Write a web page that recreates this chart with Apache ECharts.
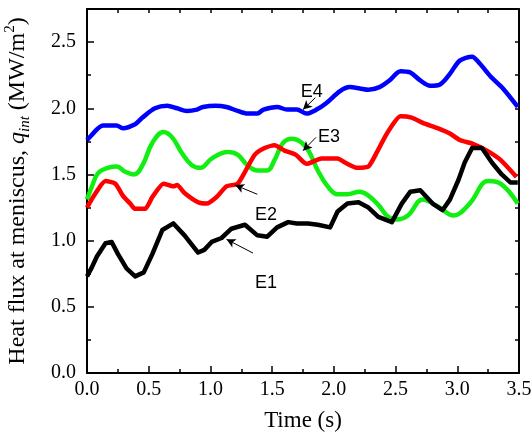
<!DOCTYPE html>
<html>
<head>
<meta charset="utf-8">
<script src="https://cdn.jsdelivr.net/npm/echarts@6/dist/echarts.min.js"></script>
<style>html,body{margin:0;padding:0;background:#fff}#c{width:531px;height:433px}</style>
</head>
<body>
<div id="c"></div>
<script>
// ---- data ----
const e1T = [0,0.04,0.08,0.15,0.20,0.25,0.32,0.39,0.46,0.53,0.61,0.70,0.79,0.90,0.95,1.01,1.09,1.17,1.28,1.38,1.46,1.54,1.63,1.70,1.79,1.87,1.97,2.03,2.11,2.20,2.28,2.36,2.47,2.55,2.62,2.70,2.80,2.88,2.94,3.01,3.06,3.12,3.20,3.28,3.36,3.43,3.49];
const e1V = [0.73,0.80,0.88,0.98,0.99,0.90,0.79,0.73,0.76,0.90,1.08,1.13,1.04,0.91,0.93,0.99,1.02,1.09,1.12,1.04,1.03,1.10,1.14,1.13,1.13,1.12,1.10,1.22,1.28,1.29,1.25,1.18,1.14,1.28,1.37,1.38,1.28,1.23,1.31,1.46,1.59,1.70,1.70,1.59,1.50,1.44,1.44];

const e2T = [0,0.07,0.15,0.23,0.29,0.35,0.39,0.47,0.53,0.62,0.70,0.73,0.79,0.90,0.97,1.05,1.13,1.22,1.28,1.36,1.44,1.52,1.60,1.69,1.78,1.90,2.03,2.09,2.19,2.28,2.35,2.43,2.54,2.63,2.72,2.84,2.94,3.02,3.13,3.24,3.35,3.48];
const e2V = [1.25,1.36,1.45,1.43,1.34,1.28,1.24,1.24,1.33,1.43,1.41,1.42,1.36,1.29,1.28,1.33,1.41,1.43,1.52,1.65,1.70,1.72,1.68,1.65,1.58,1.62,1.62,1.59,1.55,1.56,1.67,1.81,1.94,1.93,1.89,1.85,1.81,1.76,1.73,1.68,1.61,1.48];

const e3T = [0,0.04,0.09,0.17,0.24,0.31,0.38,0.45,0.53,0.62,0.69,0.77,0.85,0.92,1.01,1.14,1.22,1.30,1.38,1.46,1.52,1.59,1.66,1.74,1.80,1.87,1.95,2.03,2.11,2.21,2.28,2.36,2.44,2.51,2.60,2.72,2.84,2.97,3.10,3.25,3.35,3.49];
const e3V = [1.31,1.41,1.51,1.55,1.56,1.52,1.50,1.57,1.74,1.82,1.78,1.66,1.57,1.55,1.62,1.67,1.65,1.57,1.53,1.53,1.61,1.74,1.77,1.74,1.67,1.53,1.41,1.35,1.35,1.37,1.34,1.27,1.18,1.16,1.19,1.31,1.26,1.19,1.28,1.45,1.43,1.28];

const e4T = [0,0.03,0.13,0.24,0.29,0.39,0.45,0.55,0.65,0.73,0.81,0.89,0.94,1.04,1.13,1.22,1.30,1.38,1.43,1.54,1.62,1.70,1.78,1.86,1.94,2.05,2.13,2.21,2.28,2.37,2.45,2.54,2.62,2.70,2.78,2.86,2.94,3.02,3.12,3.18,3.27,3.37,3.49];
const e4V = [1.76,1.79,1.87,1.87,1.85,1.88,1.93,2.00,2.02,2.00,1.98,1.99,2.01,2.02,2.01,1.98,1.96,1.96,1.99,2.01,1.99,1.99,1.96,1.99,2.04,2.13,2.16,2.15,2.14,2.16,2.21,2.28,2.27,2.21,2.17,2.18,2.26,2.36,2.39,2.34,2.24,2.15,2.01];

const yMajor = [0, 0.5, 1.0, 1.5, 2.0, 2.5];
const yMinor = [0.25, 0.75, 1.25, 1.75, 2.25];

// annotation labels: name, text position, arrow start, arrow end (data units)
const annNames = ['E1', 'E2', 'E3', 'E4'];
const annText  = [[1.45, 0.68], [1.45, 1.19], [1.96, 1.78], [1.82, 2.12]];
const annFrom  = [[1.345, 0.906], [1.38, 1.35], [1.855, 1.78], [1.85, 2.08]];
const annTo    = [[1.13, 1.01], [1.20, 1.42], [1.75, 1.68], [1.75, 1.99]];

const zip = (t, v) => t.map((x, i) => [x, v[i]]);

const serif = 'Liberation Serif';
const chart = echarts.init(document.getElementById('c'), null, {renderer: 'canvas'});

const tickStyle = {color: '#000', width: 1.5};
const option = {
  animation: false,
  backgroundColor: '#fff',
  grid: {left: 87, right: 12, top: 9, bottom: 60, containLabel: false, outerBoundsMode: 'none'},
  xAxis: [
    {
      type: 'value', min: 0, max: 3.5, interval: 0.5,
      name: 'Time (s)', nameLocation: 'middle', nameGap: 36,
      nameTextStyle: {fontFamily: serif, fontSize: 23, color: '#000'},
      axisLine: {show: true, onZero: false, lineStyle: {color: '#000', width: 2}},
      axisTick: {show: true, inside: true, length: 7, lineStyle: tickStyle},
      minorTick: {show: true, splitNumber: 2, length: 4, lineStyle: tickStyle},
      axisLabel: {fontFamily: serif, fontSize: 20, color: '#000', margin: 7,
                  formatter: v => v.toFixed(1)},
      splitLine: {show: false}
    },
    {
      type: 'value', position: 'top', min: 0, max: 3.5, interval: 0.25,
      axisLine: {show: true, onZero: false, lineStyle: {color: '#000', width: 2}},
      axisTick: {show: true, inside: true, length: 4, lineStyle: tickStyle},
      axisLabel: {show: false}, splitLine: {show: false}
    }
  ],
  yAxis: [
    {
      type: 'value', min: 0, max: 2.75,
      name: '{t|Heat flux at meniscus, }{i|q}{sub|int}{t| (MW/m}{sup|2}{t|)}',
      nameLocation: 'middle', nameGap: 54, nameRotate: 90,
      nameTextStyle: {
        fontFamily: serif, fontSize: 24, color: '#000',
        rich: {
          t: {fontFamily: serif, fontSize: 24, lineHeight: 30, verticalAlign: 'middle', color: '#000'},
          i: {fontFamily: serif, fontSize: 24, lineHeight: 30, fontStyle: 'italic', verticalAlign: 'middle', color: '#000'},
          sub: {fontFamily: serif, fontSize: 15, lineHeight: 14, fontStyle: 'italic', verticalAlign: 'bottom', color: '#000'},
          sup: {fontFamily: serif, fontSize: 15, lineHeight: 14, verticalAlign: 'top', color: '#000'}
        }
      },
      axisLine: {show: true, onZero: false, lineStyle: {color: '#000', width: 2}},
      axisTick: {show: true, inside: true, length: 7, customValues: yMajor, lineStyle: tickStyle},
      axisLabel: {fontFamily: serif, fontSize: 20, color: '#000', margin: 11,
                  customValues: yMajor, formatter: v => v.toFixed(1)},
      splitLine: {show: false}
    },
    {
      type: 'value', min: 0, max: 2.75, position: 'right', interval: 0.25,
      axisLine: {show: true, onZero: false, lineStyle: {color: '#000', width: 2}},
      axisTick: {show: true, inside: true, length: 4, lineStyle: tickStyle},
      axisLabel: {show: false}, splitLine: {show: false}
    },
    {
      type: 'value', min: 0, max: 2.75, position: 'left',
      axisLine: {show: false},
      axisTick: {show: true, inside: true, length: 4, customValues: yMinor, lineStyle: tickStyle},
      axisLabel: {show: false}, splitLine: {show: false}
    }
  ],
  series: [
    {
      name: 'E3', type: 'line', data: zip(e3T, e3V), showSymbol: false, smooth: 0.4,
      lineStyle: {color: '#11ee11', width: 4.5}, z: 2
    },
    {
      name: 'E2', type: 'line', data: zip(e2T, e2V), showSymbol: false, smooth: 0.2,
      lineStyle: {color: '#ff0000', width: 4.5}, z: 3
    },
    {
      name: 'E1', type: 'line', data: zip(e1T, e1V), showSymbol: false, smooth: false,
      lineStyle: {color: '#000000', width: 4.5, join: 'round'}, z: 4
    },
    {
      name: 'E4', type: 'line', data: zip(e4T, e4V), showSymbol: false, smooth: 0.3,
      lineStyle: {color: '#0000ff', width: 4.5}, z: 5
    },
    {
      name: 'annotations', type: 'line', data: [], z: 10,
      markLine: {
        silent: true, symbol: ['none', 'arrow'], symbolSize: [7, 9],
        lineStyle: {color: '#000', width: 1, type: 'solid'},
        label: {show: false},
        data: annFrom.map((f, i) => [{coord: f}, {coord: annTo[i]}])
      },
      markPoint: {
        silent: true, symbol: 'circle', symbolSize: 0,
        label: {show: true, position: 'inside', fontFamily: 'Liberation Sans', fontSize: 18, color: '#000',
                formatter: p => p.name},
        data: annNames.map((n, i) => ({name: n, coord: annText[i]}))
      }
    }
  ]
};
chart.setOption(option);
</script>
</body>
</html>
